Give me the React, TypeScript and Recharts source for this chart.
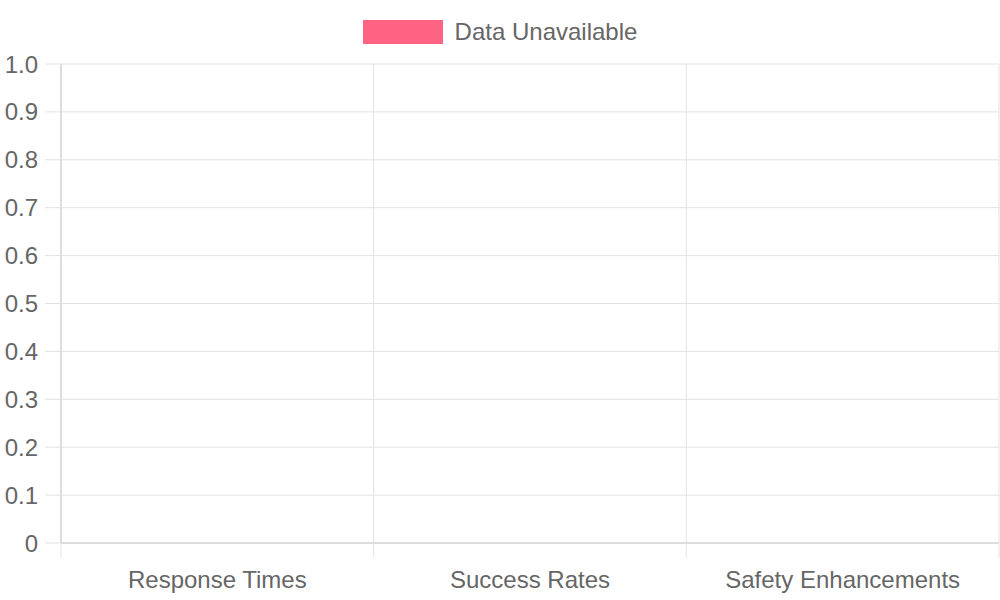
import React from 'react'
import {
  BarChart,
  Bar,
  XAxis,
  YAxis,
  CartesianGrid,
  Legend
} from 'recharts'

const categories = ['Response Times', 'Success Rates', 'Safety Enhancements']
const values: (number | null)[] = [null, null, null]
const yTicks = [0, 0.1, 0.2, 0.3, 0.4, 0.5, 0.6, 0.7, 0.8, 0.9, 1.0]
const boundaryTicks = [0, 1, 2, 3]

const data = categories.map((name, i) => ({ name, value: values[i] }))

const FONT = '"Liberation Sans", Arial, Helvetica, sans-serif'
const GRID = '#e2e2e2'
const BORDER = '#c9c9c9'
const TEXT = '#666666'

function LegendBox(props: any) {
  const items = props.payload || []
  return (
    <div
      style={{
        height: 64,
        display: 'flex',
        justifyContent: 'center',
        alignItems: 'flex-start'
      }}
    >
      {items.map((it: any) => (
        <div
          key={it.value}
          style={{ display: 'flex', alignItems: 'center', marginTop: 20 }}
        >
          <div
            style={{
              width: 80,
              height: 24,
              background: it.color
            }}
          />
          <span
            style={{
              marginLeft: 12,
              fontFamily: FONT,
              fontSize: 24,
              color: TEXT,
              lineHeight: '24px'
            }}
          >
            {it.value}
          </span>
        </div>
      ))}
    </div>
  )
}

// centre of each category band, on a 0..3 scale
const bandCentre = (d: any) => categories.indexOf(d.name) + 0.5

// boundary axis: only the tick marks, no labels
const NoLabel = () => <g />

export default function App() {
  return (
    <div style={{ position: 'absolute', left: 0, top: 0, width: 1000, height: 600 }}>
      <BarChart
        width={1000}
        height={600}
        data={data}
        margin={{ top: 0, right: 1, bottom: 0, left: 0 }}
      >
        <Legend
          verticalAlign="top"
          align="center"
          content={LegendBox}
          wrapperStyle={{ top: 0, left: 0, width: 1000 }}
        />
        <CartesianGrid
          xAxisId="a_grid"
          stroke={GRID}
          strokeWidth={1}
          verticalPoints={undefined}
        />
        <XAxis
          xAxisId="a_grid"
          type="number"
          dataKey={bandCentre}
          domain={[0, 3]}
          ticks={boundaryTicks}
          interval={0}
          allowDataOverflow
          tick={NoLabel}
          tickSize={15}
          height={15}
          axisLine={{ stroke: BORDER }}
          tickLine={{ stroke: GRID }}
        />
        <XAxis
          xAxisId="b_cat"
          dataKey="name"
          tickLine={false}
          axisLine={false}
          tickSize={0}
          tickMargin={13}
          height={42}
          interval={0}
          tick={{ fill: TEXT, fontSize: 24, fontFamily: FONT }}
        />
        <YAxis
          width={61}
          type="number"
          domain={[0, 1]}
          allowDataOverflow
          ticks={yTicks}
          interval={0}
          tickSize={16}
          tickMargin={7}
          tickFormatter={(v: number) => (v === 0 ? '0' : v.toFixed(1))}
          axisLine={{ stroke: BORDER }}
          tickLine={{ stroke: GRID }}
          tick={{ fill: TEXT, fontSize: 24, fontFamily: FONT }}
        />
        <Bar
          xAxisId="b_cat"
          dataKey="value"
          name="Data Unavailable"
          fill="#ff6384"
          isAnimationActive={false}
        />
      </BarChart>
    </div>
  )
}
